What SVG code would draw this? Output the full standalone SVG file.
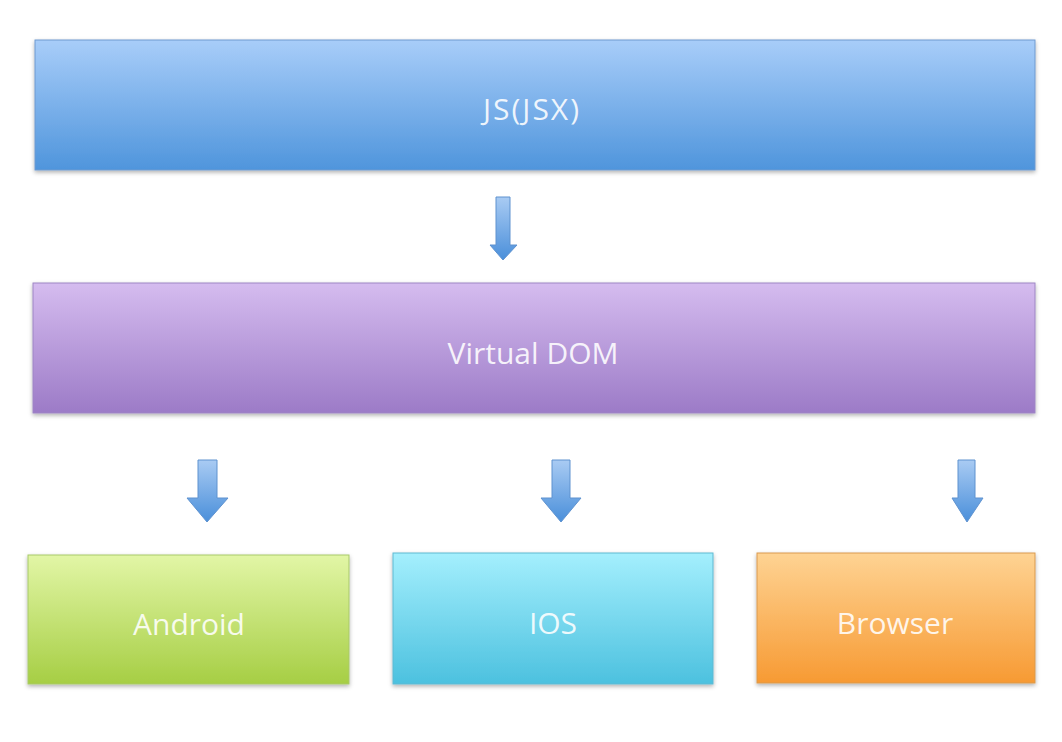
<svg xmlns="http://www.w3.org/2000/svg" width="1062" height="742" viewBox="0 0 1062 742">
<defs>
<linearGradient id="gBlue" x1="0" y1="0" x2="0" y2="1"><stop offset="0" stop-color="#a8cdf9"/><stop offset="1" stop-color="#4f95dc"/></linearGradient>
<linearGradient id="gPurple" x1="0" y1="0" x2="0" y2="1"><stop offset="0" stop-color="#d5bcef"/><stop offset="1" stop-color="#9c7bc7"/></linearGradient>
<linearGradient id="gGreen" x1="0" y1="0" x2="0" y2="1"><stop offset="0" stop-color="#e2f6a6"/><stop offset="1" stop-color="#a6ce44"/></linearGradient>
<linearGradient id="gCyan" x1="0" y1="0" x2="0" y2="1"><stop offset="0" stop-color="#a4effd"/><stop offset="1" stop-color="#4cc1df"/></linearGradient>
<linearGradient id="gOrange" x1="0" y1="0" x2="0" y2="1"><stop offset="0" stop-color="#fed393"/><stop offset="1" stop-color="#f79a33"/></linearGradient>
<linearGradient id="gArrow" x1="0" y1="0" x2="0" y2="1"><stop offset="0" stop-color="#a9cbf3"/><stop offset="1" stop-color="#4a8fda"/></linearGradient>
<filter id="sh" x="-5%" y="-10%" width="110%" height="125%"><feDropShadow dx="0" dy="2" stdDeviation="2" flood-color="#000" flood-opacity="0.3"/></filter>
</defs>
<style>
.box{filter:url(#sh);stroke-width:1}
.lbl{font-family:"Open Sans","Noto Sans",sans-serif;font-size:30px;fill:#ffffff;fill-opacity:0.88;text-anchor:middle;dominant-baseline:central}
.arr{fill:url(#gArrow);stroke:#5f92cf;stroke-width:1}
</style>
<rect width="1062" height="742" fill="#ffffff"/>
<g id="jsx">
<rect class="box" x="35" y="40" width="1000" height="130" fill="url(#gBlue)" stroke="#6e9ad0"/>
<text class="lbl" x="532" y="108" letter-spacing="2">JS(JSX)</text>
</g>
<g id="vdom">
<rect class="box" x="33" y="283" width="1002" height="130" fill="url(#gPurple)" stroke="#9e86c4"/>
<text class="lbl" x="533" y="352">Virtual DOM</text>
</g>
<g id="android">
<rect class="box" x="28" y="555" width="321" height="129" fill="url(#gGreen)" stroke="#a8c96a"/>
<text class="lbl" x="189" y="623">Android</text>
</g>
<g id="ios">
<rect class="box" x="393" y="553" width="320" height="131" fill="url(#gCyan)" stroke="#5fb9d2"/>
<text class="lbl" x="553" y="622">IOS</text>
</g>
<g id="browser">
<rect class="box" x="757" y="553" width="278" height="130" fill="url(#gOrange)" stroke="#d99a4e"/>
<text class="lbl" x="895" y="622">Browser</text>
</g>
<g id="connectors">
<path class="arr" d="M496,197 H510 V245 H517 L503,260 L490,245 H496 Z"/>
<path class="arr" d="M198,460 H217 V498 H228 L207,522 L187,498 H198 Z"/>
<path class="arr" d="M552,460 H570 V498 H581 L561,522 L541,498 H552 Z"/>
<path class="arr" d="M958,460 H975 V498 H983 L967,522 L952,498 H958 Z"/>
</g>
</svg>
